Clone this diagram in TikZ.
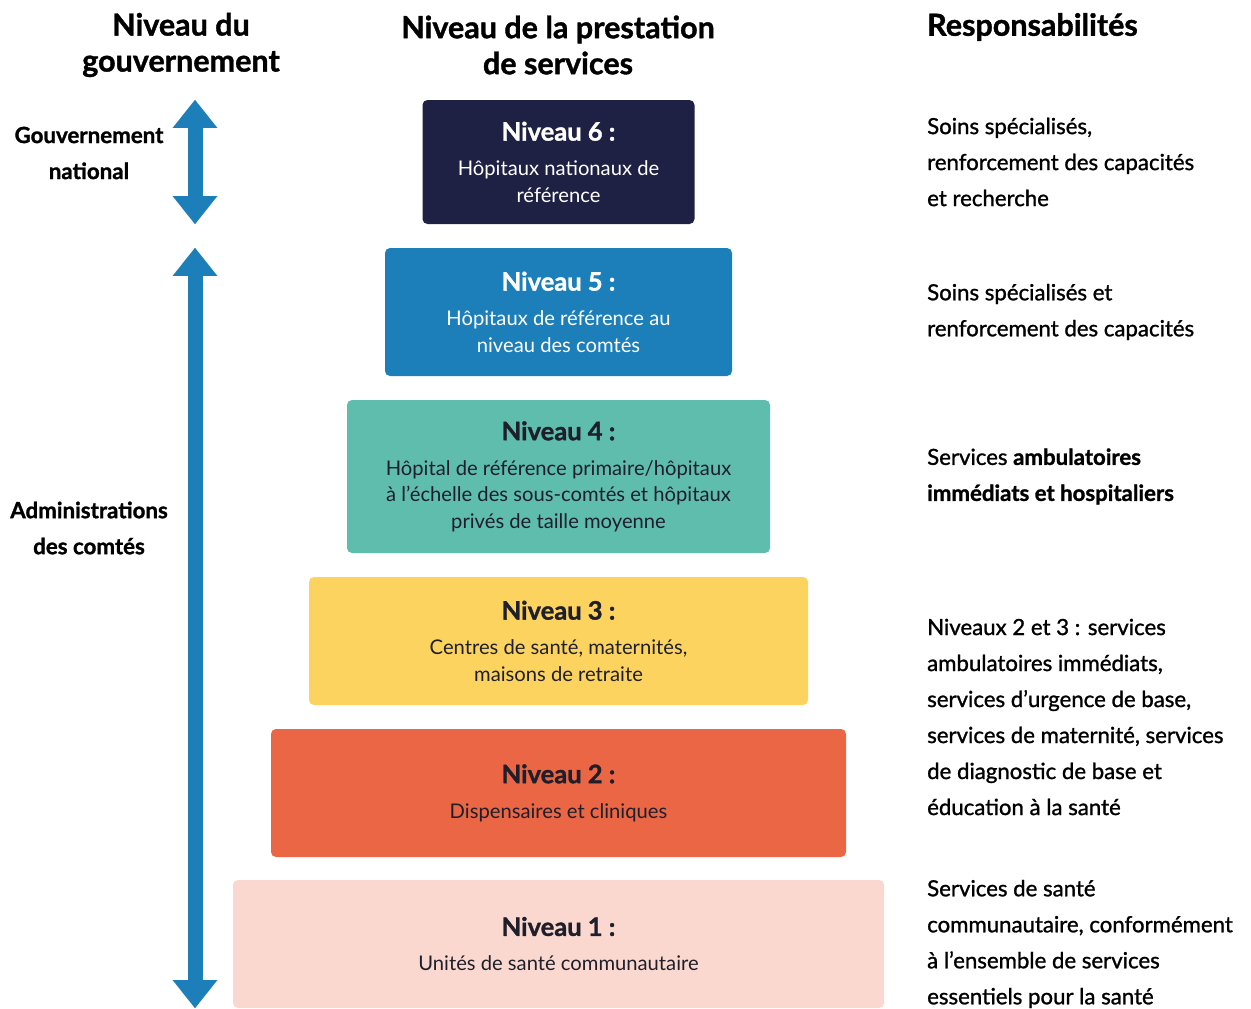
\documentclass[tikz,border=0pt]{standalone}
\usepackage{fontspec}
\setmainfont{Lato}
\newfontfamily\semibold[FakeBold=1.2]{Lato}
\newfontfamily\heavy[FakeBold=1.2]{Lato}
\usetikzlibrary{arrows.meta, calc}

\definecolor{navy}{HTML}{1F2144}
\definecolor{lvblue}{HTML}{1C7FBA}
\definecolor{teal}{HTML}{5FBDAE}
\definecolor{yellow}{HTML}{FDD35F}
\definecolor{orange}{HTML}{EB6644}
\definecolor{pink}{HTML}{FAD8CF}
\definecolor{ink}{HTML}{1E1F2A}
\definecolor{spanblue}{HTML}{1C7FBA}

\newcommand\lvtitle[1]{{\heavy\bfseries\fontsize{25.5}{28}\selectfont #1}\\[8.5pt]}

\begin{document}
\begin{tikzpicture}[x=1pt, y=-1pt, text=ink,
  Level/.style={rounded corners=5pt, align=center, inner sep=0pt, font=\fontsize{20.2}{26.5}\selectfont},
  Head/.style={align=center, text=black, font=\heavy\bfseries\fontsize{30.5}{36}\selectfont},
  Side/.style={align=center, text=black, font=\heavy\bfseries\fontsize{22.3}{36}\selectfont},
  Resp/.style={anchor=west, align=left, inner sep=0pt, text=black, font=\semibold\fontsize{22.2}{36}\selectfont},
  Span/.style={draw=spanblue, line width=15pt, {Triangle[length=28pt, width=44.6pt, line width=0pt]}-{Triangle[length=28pt, width=44.6pt, line width=0pt]}}]

\useasboundingbox (0,0) rectangle (1251,1009);

% column headers
\node [Head] (hgov) at (181,45) {Niveau du\\gouvernement};
\node [Head] (hlvl) at (558,45) {Niveau de la prestation\\de services};
\node [Head, anchor=west, inner sep=0pt] (hresp) at (927,27) {Responsabilités};

% the six levels
\foreach \n/\y/\w/\h/\col/\tc/\txt in {
  6/162/272/124/navy/white/{Hôpitaux nationaux de\\référence},
  5/312/347/128/lvblue/white/{Hôpitaux de référence au\\niveau des comtés},
  4/476.5/423/153/teal/ink/{Hôpital de référence primaire/hôpitaux\\à l’échelle des sous-comtés et hôpitaux\\privés de taille moyenne},
  3/641/499/128/yellow/ink/{Centres de santé, maternités,\\maisons de retraite},
  2/793/575/128/orange/ink/{Dispensaires et cliniques},
  1/944/651/128/pink/ink/{Unités de santé communautaire}} {
  \node [Level, fill=\col, text=\tc, minimum width=\w, minimum height=\h] (lv\n) at (558.5,\y) {\lvtitle{Niveau \n~:}\txt};
}

% government side
\coordinate (axis) at (195,0);
\draw [Span] (lv6.north -| axis) -- (lv6.south -| axis);
\draw [Span] (lv5.north -| axis) -- (lv1.south -| axis);
\node [Side] (gnat) at (89,153) {Gouvernement\\national};
\node [Side] (gcty) at (89,528) {Administrations\\des comtés};

% responsibilities
\coordinate (resp) at (927,0);
\coordinate (mid23) at ($(lv3)!0.5!(lv2)$);
\node [Resp] (r6) at (lv6 -| resp) {Soins spécialisés,\\renforcement des capacités\\et recherche};
\node [Resp] (r5) at (lv5 -| resp) {Soins spécialisés et\\renforcement des capacités};
\node [Resp] (r4) at (lv4 -| resp) {Services {\heavy\bfseries ambulatoires}\\{\heavy\bfseries immédiats et hospitaliers}};
\node [Resp] (r23) at (mid23 -| resp) {Niveaux 2 et 3 : services\\ambulatoires immédiats,\\services d’urgence de base,\\services de maternité, services\\de diagnostic de base et\\éducation à la santé};
\node [Resp] (r1) at (lv1 -| resp) {Services de santé\\communautaire, conformément\\à l’ensemble de services\\essentiels pour la santé};
\end{tikzpicture}
\end{document}
